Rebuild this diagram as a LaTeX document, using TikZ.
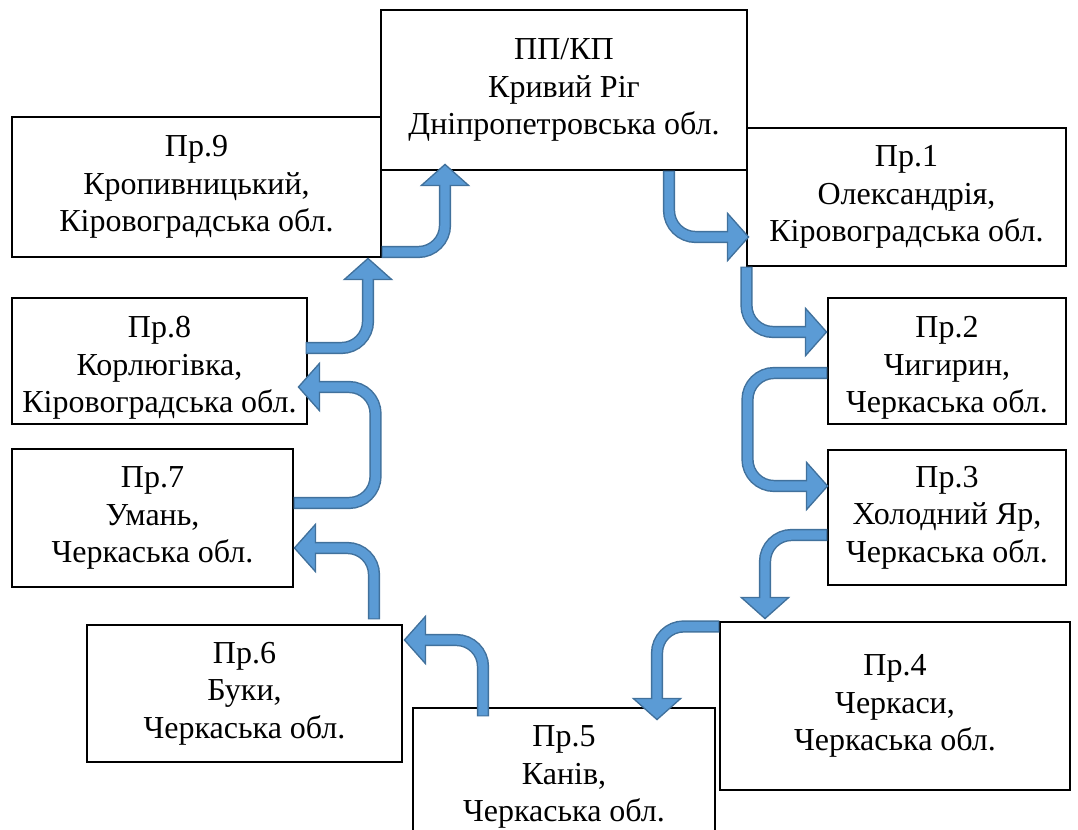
\documentclass[tikz,border=0pt]{standalone}
\usepackage{fontspec}
\setmainfont{Liberation Serif}
\usepackage{tikz}
\usetikzlibrary{arrows.meta, positioning, calc}

\definecolor{flowfill}{RGB}{91,155,213}
\definecolor{flowedge}{RGB}{65,113,156}

\begin{document}
\begin{tikzpicture}[x=0.75pt, y=-0.75pt,
  stoptext/.style={align=center, inner sep=0pt, font=\fontsize{24}{28}\selectfont},
  place/.style={draw, fill=white, line width=0.8pt, stoptext},
  flow/.style={draw=flowfill, line width=7pt, rounded corners=20pt, shorten >=15pt, shorten <=0.9pt,
    preaction={draw=flowedge, line width=9.2pt, shorten >=0pt, shorten <=0pt,
      -{Triangle[length=17pt 0, width=38pt 0, line width=1pt, fill=flowfill]}}}]
  \clip (0,0) rectangle (1078,830);

  % start and end point of the route
  \node[place, minimum width=274.5pt, minimum height=120pt] (pp) at (564,90) {ПП/КП\\Кривий Ріг\\Дніпропетровська обл.};

  % stops on the right side
  \node[place, minimum width=239.25pt, minimum height=103.5pt] (pr1) at (906.5,197) {Пр.1\\Олександрія,\\Кіровоградська обл.};
  \node[place, minimum width=178.5pt, minimum height=94.5pt] (pr2) at (947,361) {};
  \node[stoptext] (pr2txt) at ($(pr2)+(0,7)$) {Пр.2\\Чигирин,\\Черкаська обл.};
  \node[place, minimum width=178.5pt, minimum height=101.25pt] (pr3) at (947,517.5) {Пр.3\\Холодний Яр,\\Черкаська обл.};
  \node[place, minimum width=262.5pt, minimum height=126pt] (pr4) at (895,706) {Пр.4\\Черкаси,\\Черкаська обл.};

  % bottom
  \node[place, minimum width=226.5pt, minimum height=103.5pt] (pr5) at (564,777) {Пр.5\\Канів,\\Черкаська обл.};

  % stops on the left side
  \node[place, minimum width=236.25pt, minimum height=102.75pt] (pr6) at (244.5,693.5) {Пр.6\\Буки,\\Черкаська обл.};
  \node[place, minimum width=210.75pt, minimum height=103.5pt] (pr7) at (152.5,518) {Пр.7\\Умань,\\Черкаська обл.};
  \node[place, minimum width=221.25pt, minimum height=94.5pt] (pr8) at (159.5,361) {};
  \node[stoptext] (pr8txt) at ($(pr8)+(0,7)$) {Пр.8\\Корлюгівка,\\Кіровоградська обл.};
  \node[place, minimum width=276.75pt, minimum height=105pt] (pr9) at (196.5,187) {Пр.9\\Кропивницький,\\Кіровоградська обл.};

  % route arrows, clockwise
  \draw[flow] ($(pp.south)+(105,0)$) |- ($(pr1.west)+(3,40)$);
  \draw[flow] (pr1.south west) |- ($(pr2.west)+(0,-29)$);
  \draw[flow] ($(pr2.west)+(0,12)$) -- ++(-80,0) |- ($(pr3.west)+(1,-31.5)$);
  \draw[flow] ($(pr3.west)+(0,17.5)$) -| ($(pr4.north)+(-130,-2)$);
  \draw[flow] ($(pr4.north west)+(0,5)$) -| ($(pr5.north)+(93,13)$);
  \draw[flow] ($(pr5.north)+(-81,9)$) |- ($(pr6.east)+(1,-53.5)$);
  \draw[flow] ($(pr6.north)+(129.5,-5)$) |- ($(pr7.east)+(0,30)$);
  \draw[flow] ($(pr7.east)+(0,-15)$) -- ++(82,0) |- ($(pr8.east)+(-10,26)$);
  \draw[flow] ($(pr8.east)+(-2,-13)$) -| ($(pr9.south)+(171.5,0)$);
  \draw[flow] ($(pr9.east)+(0,65)$) -| ($(pp.south)+(-119,-7)$);
\end{tikzpicture}
\end{document}
